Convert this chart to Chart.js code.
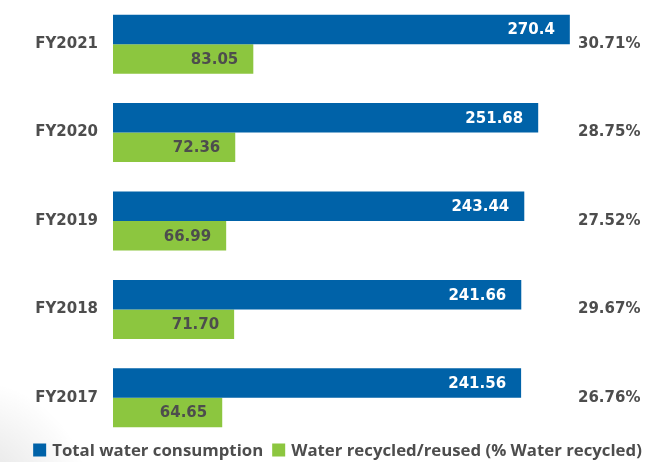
<!DOCTYPE html>
<html>
<head>
<meta charset="utf-8">
<script src="https://cdn.jsdelivr.net/npm/chart.js@4.4.1/dist/chart.umd.min.js"></script>
<style>
  html, body { margin: 0; padding: 0; }
  body {
    width: 671px; height: 462px; overflow: hidden;
    background: #fff radial-gradient(circle at -30px 500px, rgba(0,0,0,0.13), rgba(0,0,0,0) 120px);
  }
  #wrap { position: relative; width: 671px; height: 462px; }
</style>
</head>
<body>
<div id="wrap"><canvas id="water-chart"></canvas></div>
<script>
const years = ['FY2021', 'FY2020', 'FY2019', 'FY2018', 'FY2017'];
const totalWater = ['270.4', '251.68', '243.44', '241.66', '241.56'];
const recycledWater = ['83.05', '72.36', '66.99', '71.70', '64.65'];
const recycledPct = [30.71, 28.75, 27.52, 29.67, 26.76];

const BLUE = '#0062a8';
const GREEN = '#8cc63f';
const GREY = '#4d4d4d';

// value text inside the end of each bar
const barLabels = {
  id: 'barLabels',
  afterDatasetsDraw(chart) {
    const c = chart.ctx;
    c.save();
    c.font = 'bold 15px "DejaVu Sans"';
    c.textAlign = 'right';
    c.textBaseline = 'middle';
    chart.data.datasets.forEach((ds, i) => {
      const meta = chart.getDatasetMeta(i);
      c.fillStyle = ds.labelColor;
      meta.data.forEach((bar, j) => {
        c.fillText(ds.labelText[j], bar.x - 15, bar.y + 1);
      });
    });
    c.restore();
  }
};

// legend drawn by hand so it sits tight under the bars
const bottomLegend = {
  id: 'bottomLegend',
  afterDraw(chart) {
    const c = chart.ctx;
    c.save();
    c.font = 'bold 16.8px "Open Sans"';
    c.textBaseline = 'middle';
    const box = 13, gap = 6, itemGap = 9;
    const items = chart.data.datasets.map(ds => ({
      text: ds.label, color: ds.backgroundColor, w: c.measureText(ds.label).width
    }));
    let total = 0;
    items.forEach((it, i) => { total += box + gap + it.w + (i ? itemGap : 0); });
    let x = (chart.width - total) / 2 + 2;
    const y = 450;
    items.forEach(it => {
      c.fillStyle = it.color;
      c.fillRect(x, y - box / 2, box, box);
      x += box + gap;
      c.fillStyle = GREY;
      c.fillText(it.text, x, y + 1);
      x += it.w + itemGap;
    });
    c.restore();
  }
};

// keep the bars flush with the top: no label overhang padding on the side axes
function sideAxisFit(width) {
  return scale => {
    scale.width = width;
    scale.paddingTop = 0;
    scale.paddingBottom = 0;
  };
}

new Chart(document.getElementById('water-chart'), {
  type: 'bar',
  data: {
    labels: years,
    datasets: [
      {
        label: 'Total water consumption',
        data: totalWater.map(Number),
        labelText: totalWater,
        labelColor: '#ffffff',
        backgroundColor: BLUE,
        categoryPercentage: 0.667,
        barPercentage: 1
      },
      {
        label: 'Water recycled/reused (% Water recycled)',
        data: recycledWater.map(Number),
        labelText: recycledWater,
        labelColor: GREY,
        backgroundColor: GREEN,
        categoryPercentage: 0.667,
        barPercentage: 1
      }
    ]
  },
  options: {
    indexAxis: 'y',
    responsive: true,
    maintainAspectRatio: false,
    animation: false,
    layout: { padding: { top: 0, right: 0, bottom: 20, left: 0 } },
    plugins: {
      legend: { display: false },
      tooltip: { enabled: false }
    },
    scales: {
      x: { display: false, min: 0, max: 270.5 },
      y: {
        position: 'left',
        offset: true,
        grid: { display: false, drawTicks: false },
        border: { display: false },
        ticks: { padding: 15, color: GREY, font: { family: 'DejaVu Sans', size: 15, weight: 'bold' } },
        afterFit: sideAxisFit(113)
      },
      pct: {
        type: 'category',
        axis: 'y',
        position: 'right',
        labels: recycledPct.map(p => p.toFixed(2) + '%'),
        offset: true,
        grid: { display: false, drawTicks: false },
        border: { display: false },
        ticks: { padding: 8, color: GREY, font: { family: 'DejaVu Sans', size: 15, weight: 'bold' } },
        afterFit: sideAxisFit(101)
      }
    }
  },
  plugins: [barLabels, bottomLegend]
});
</script>
</body>
</html>
